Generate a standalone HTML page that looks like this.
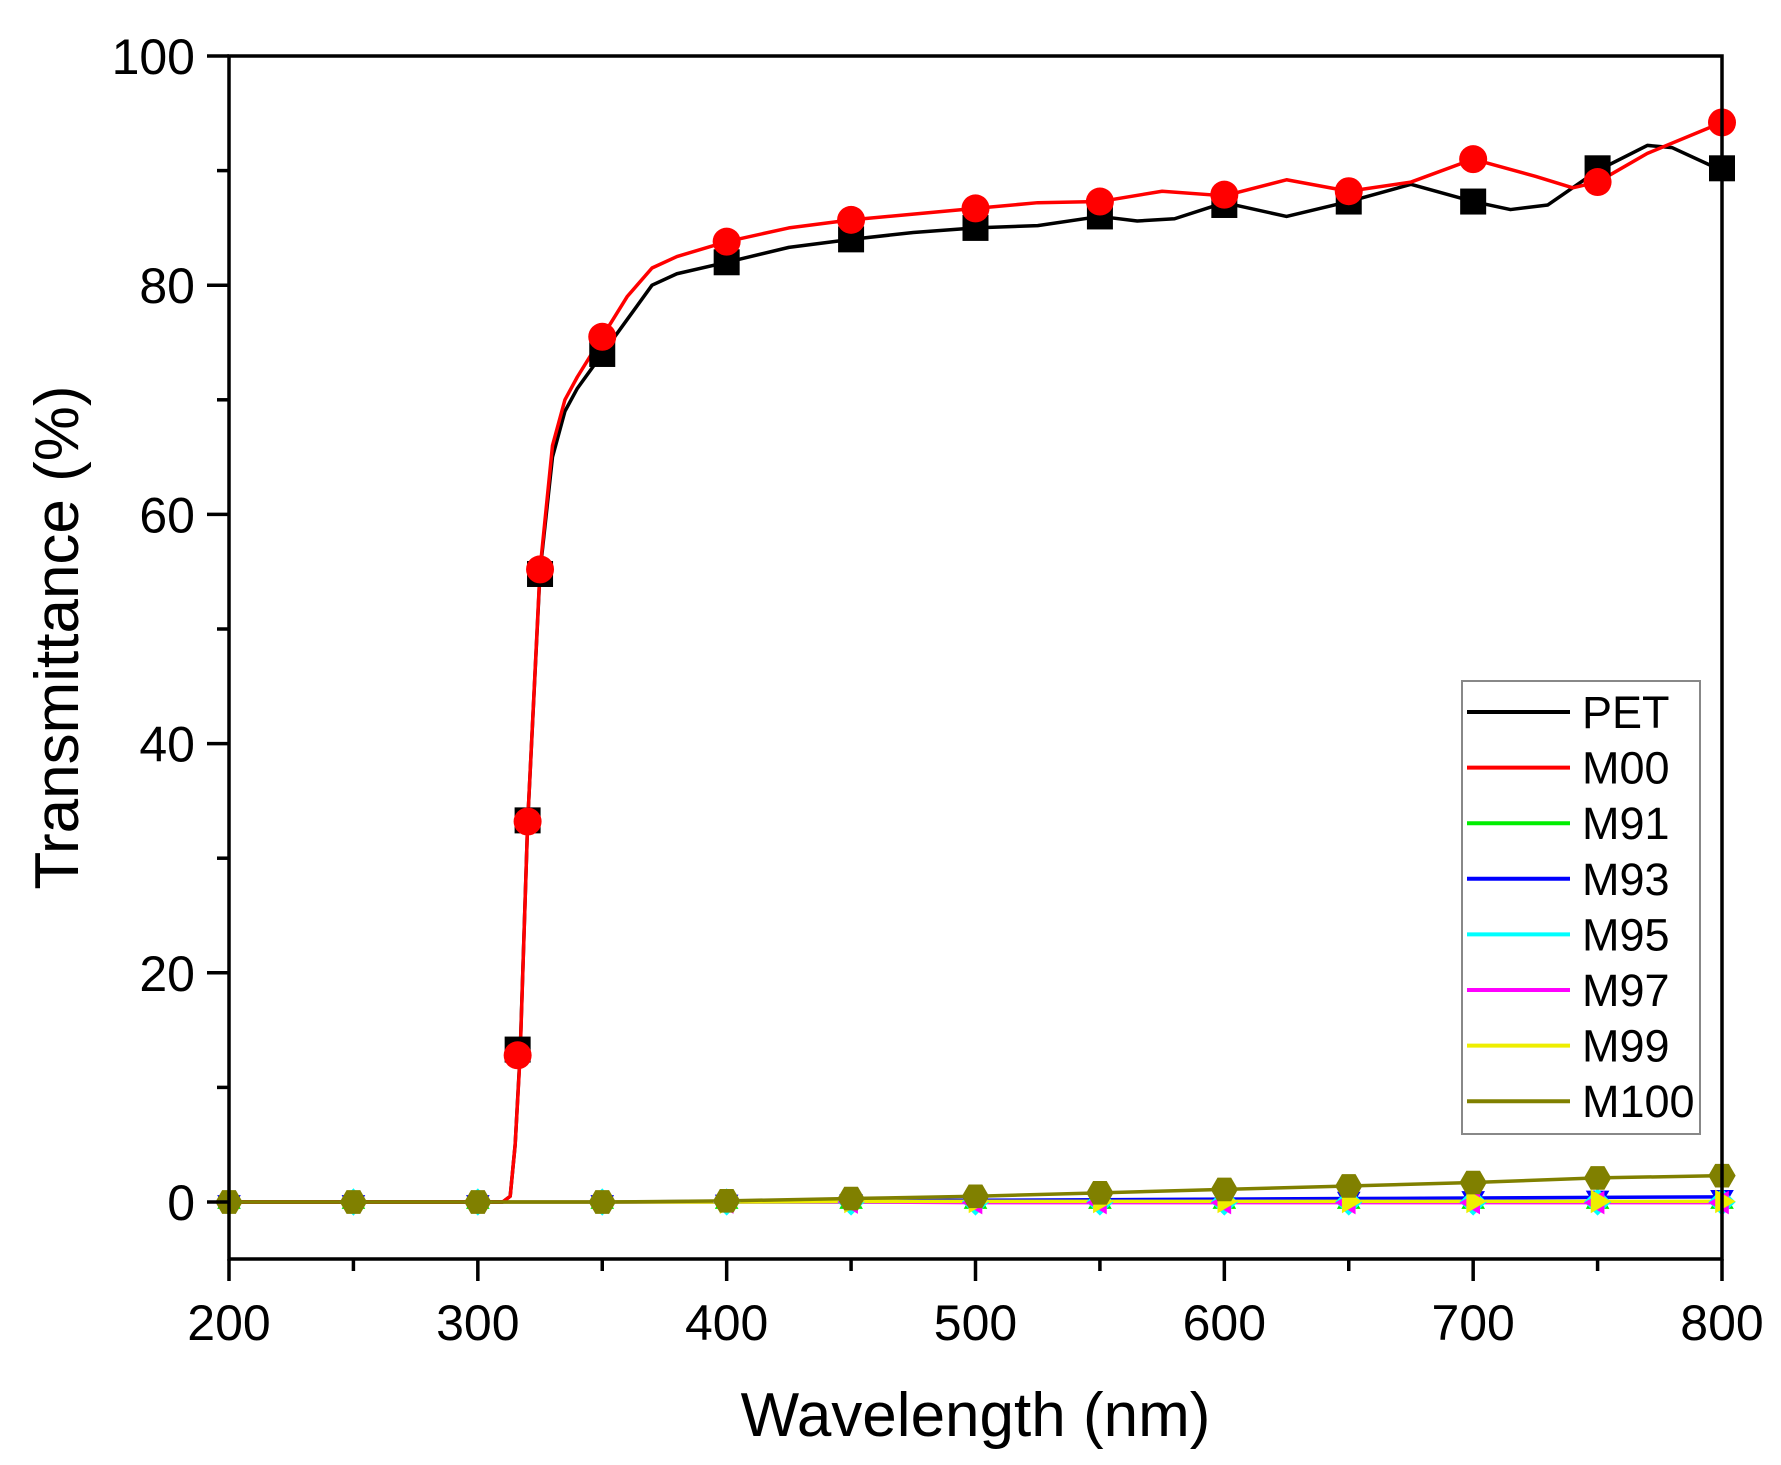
<!DOCTYPE html>
<html><head><meta charset="utf-8"><style>
html,body{margin:0;padding:0;background:#fff;}
svg{display:block;font-family:"Liberation Sans",Arial,sans-serif;}
</style></head><body>
<svg id="chart" width="1781" height="1465" viewBox="0 0 1781 1465" xmlns="http://www.w3.org/2000/svg">
<g id="plot"></g>
<g id="axes"></g>
<g id="legend"></g>
</svg>
<script>
const xTicks=[200,300,400,500,600,700,800];
const yTicks=[0,20,40,60,80,100];
const petX=[200,250,300,310,313,315,317,320,325,330,335,340,350,360,370,380,400,425,450,475,500,525,550,565,580,600,625,650,675,700,715,730,750,770,780,800];
const petY=[0,0,0,0,0.5,5,13,33,55,65,69,71,74,77,80,81,82,83.3,84,84.6,85,85.2,86,85.6,85.8,87.2,86,87.3,88.8,87.3,86.6,87,90,92.2,92,90];
const m00X=[200,250,300,310,313,315,317,320,325,330,335,340,350,360,370,380,400,425,450,475,500,525,550,575,600,625,650,675,700,725,740,750,770,800];
const m00Y=[0,0,0,0,0.5,5,12.8,33,55.2,66,70,72,75.5,79,81.5,82.5,83.8,85,85.7,86.2,86.7,87.2,87.3,88.2,87.8,89.2,88.2,89,91,89.5,88.5,89,91.5,94.2];
const petMarkX=[316,320,325,350,400,450,500,550,600,650,700,750,800];
const petMarkY=[13.3,33.3,54.8,74,82,84,85,86,87,87.3,87.3,90.2,90.2];
const m00MarkX=[316,320,325,350,400,450,500,550,600,650,700,750,800];
const m00MarkY=[12.8,33.2,55.2,75.5,83.8,85.7,86.7,87.3,87.9,88.2,91,89,94.2];
const lowX=[200,250,300,350,400,450,500,550,600,650,700,750,800];
const m91Y=[0,0,0,0,0,0,0,0,0,0,0,0,0];
const m93Y=[0,0,0,0,0.05,0.1,0.15,0.2,0.25,0.3,0.35,0.4,0.45];
const m95Y=[0,0,0,0,0,0,0,0,0,0,0,0,0];
const m97Y=[0,0,0,0,0,0,-0.05,-0.05,-0.05,-0.05,-0.05,-0.05,-0.05];
const m99Y=[0,0,0,0,0,0.05,0.05,0.05,0.05,0.05,0.05,0.05,0.05];
const m100Y=[0,0,0,0,0.1,0.3,0.5,0.8,1.1,1.4,1.7,2.1,2.3];
const legendNames=["PET","M00","M91","M93","M95","M97","M99","M100"];
const legendColors=["#000000","#ff0000","#00ee00","#0000ff","#00ffff","#ff00ff","#eeee00","#808000"];

const X0=229,X1=1722,Y0=1202,YTOP=56;
const sx=v=>X0+(v-200)/600*(X1-X0);
const sy=v=>Y0-v/100*(Y0-YTOP);
const NS="http://www.w3.org/2000/svg";
function mk(tag,attrs,parent){const e=document.createElementNS(NS,tag);for(const k in attrs)e.setAttribute(k,attrs[k]);parent.appendChild(e);return e;}
const plot=document.getElementById('plot'),axes=document.getElementById('axes'),legend=document.getElementById('legend');

function line(xs,ys,color,name){
  const p=mk('polyline',{points:xs.map((x,i)=>sx(x)+','+sy(ys[i])).join(' '),fill:'none',stroke:color,'stroke-width':3.5,'stroke-linejoin':'round'},plot);
  
  
}
function marker(shape,x,y,color,name){
  const cx=sx(x),cy=sy(y),r=13;let e;
  if(shape==='square')e=mk('rect',{x:cx-r,y:cy-r,width:2*r,height:2*r,fill:color},plot);
  else if(shape==='circle')e=mk('circle',{cx:cx,cy:cy,r:r+1,fill:color},plot);
  else{
    let pts=[];
    const defs={up:[3,-90],down:[3,90],diamond:[4,-90],left:[3,180],right:[3,0],hex:[6,0]};
    const [n,a0]=defs[shape];
    for(let i=0;i<n;i++){const a=(a0+i*360/n)*Math.PI/180;pts.push((cx+r*1.05*Math.cos(a))+','+(cy+r*1.05*Math.sin(a)));}
    e=mk('polygon',{points:pts.join(' '),fill:color},plot);
  }
  
  
}
const lows=[[m91Y,'#00ee00','up','m91'],[m93Y,'#0000ff','down','m93'],[m95Y,'#00ffff','diamond','m95'],[m97Y,'#ff00ff','left','m97'],[m99Y,'#eeee00','right','m99']];
lows.forEach(s=>line(lowX,s[0],s[1],s[3]+'-line'));
line(petX,petY,'#000000','pet-line');
line(m00X,m00Y,'#ff0000','m00-line');
line(lowX,m100Y,'#808000','m100-line');
lows.forEach(s=>lowX.forEach((x,i)=>marker(s[2],x,s[0][i],s[1],s[3]+'-marker')));
lowX.forEach((x,i)=>marker('hex',x,m100Y[i],'#808000','m100-marker'));
petMarkX.forEach((x,i)=>marker('square',x,petMarkY[i],'#000000','pet-marker'));
m00MarkX.forEach((x,i)=>marker('circle',x,m00MarkY[i],'#ff0000','m00-marker'));

const f=mk('rect',{x:X0,y:YTOP,width:X1-X0,height:1259-YTOP,fill:'none',stroke:'#000','stroke-width':3.5},axes);


xTicks.forEach(v=>{
  mk('line',{x1:sx(v),x2:sx(v),y1:1259,y2:1281,stroke:'#000','stroke-width':3.5},axes);
  const t=mk('text',{x:sx(v),y:1340,'font-size':50,'text-anchor':'middle',fill:'#000'},axes);t.textContent=v;
  
  
  if(v<800)mk('line',{x1:sx(v+50),x2:sx(v+50),y1:1259,y2:1271,stroke:'#000','stroke-width':3.5},axes);
});
yTicks.forEach(v=>{
  mk('line',{x1:X0-22,x2:X0,y1:sy(v),y2:sy(v),stroke:'#000','stroke-width':3.5},axes);
  const t=mk('text',{x:X0-34,y:sy(v)+18,'font-size':50,'text-anchor':'end',fill:'#000'},axes);t.textContent=v;
  
  
  if(v<100)mk('line',{x1:X0-12,x2:X0,y1:sy(v+10),y2:sy(v+10),stroke:'#000','stroke-width':3.5},axes);
});
const xt=mk('text',{x:(X0+X1)/2,y:1436,'font-size':62,'text-anchor':'middle',fill:'#000'},axes);xt.textContent='Wavelength (nm)';


const yt=mk('text',{x:0,y:0,'font-size':62,'text-anchor':'middle',fill:'#000',transform:'translate(78,'+((YTOP+1259)/2-20)+') rotate(-90)'},axes);yt.textContent='Transmittance (%)';



const lb=mk('rect',{x:1462,y:681,width:238,height:453,fill:'#fff',stroke:'#888','stroke-width':2},legend);


legendNames.forEach((n,i)=>{
  const y=712+i*55.6;
  const g=mk('g',{},legend);
  
  
  mk('line',{x1:1467,x2:1570,y1:y,y2:y,stroke:legendColors[i],'stroke-width':4},g);
  const t=mk('text',{x:1582,y:y+16,'font-size':45,fill:'#000'},g);t.textContent=n;
});
</script>
</body></html>
